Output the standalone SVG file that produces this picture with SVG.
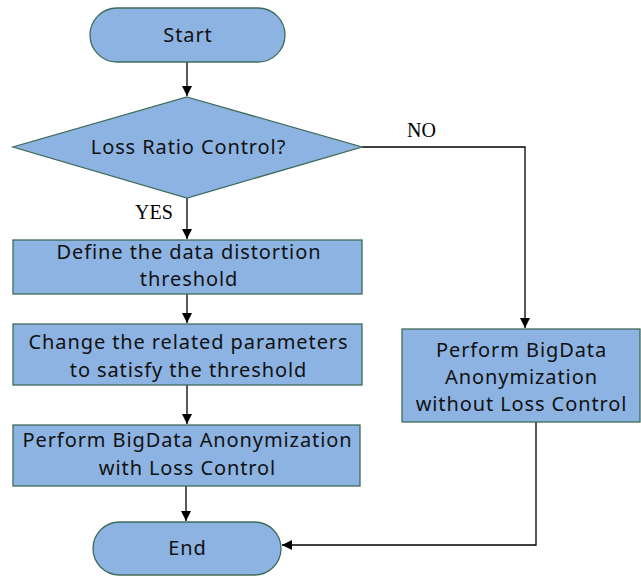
<svg xmlns="http://www.w3.org/2000/svg" width="641" height="576" viewBox="0 0 641 576">
<style>
.shape{fill:#8db3e2;stroke:#3f6b5a;stroke-width:1.3}
.t{font-family:"Noto Sans","Open Sans",sans-serif;font-size:20px;letter-spacing:0.9px;fill:#111;text-anchor:middle}
.lbl{font-family:"Liberation Serif","Times New Roman",serif;font-size:20px;fill:#000}
.c{fill:none;stroke:#000;stroke-width:1.3}
</style>
<defs>
<marker id="ah" viewBox="0 0 10 10" refX="10" refY="5" markerWidth="10" markerHeight="10" markerUnits="userSpaceOnUse" orient="auto">
<path d="M0,0 L10,5 L0,10 z" fill="#000"/>
</marker>
</defs>
<g id="connectors">
<line class="c" x1="187" y1="62" x2="187" y2="96" marker-end="url(#ah)"/>
<line class="c" x1="187" y1="198" x2="187" y2="239" marker-end="url(#ah)"/>
<line class="c" x1="187" y1="294" x2="187" y2="323" marker-end="url(#ah)"/>
<line class="c" x1="187" y1="385" x2="187" y2="424" marker-end="url(#ah)"/>
<line class="c" x1="186" y1="486" x2="186" y2="521" marker-end="url(#ah)"/>
<polyline class="c" points="362,147 525,147 525,328" marker-end="url(#ah)"/>
<polyline class="c" points="536,422 536,545 282,545" marker-end="url(#ah)"/>
<text class="lbl" x="407" y="137">NO</text>
<text class="lbl" x="135" y="219">YES</text>
</g>
<g id="start">
<rect class="shape" x="90" y="8" width="195" height="54" rx="27" ry="27"/>
<text class="t" x="188" y="42">Start</text>
</g>
<g id="decision">
<polygon class="shape" points="187,97 362,147 187,198 13,147"/>
<text class="t" x="188.5" y="154">Loss Ratio Control?</text>
</g>
<g id="define">
<rect class="shape" x="13" y="240" width="349" height="54"/>
<text class="t" x="189" y="259">Define the data distortion</text>
<text class="t" x="189" y="286">threshold</text>
</g>
<g id="change">
<rect class="shape" x="13" y="324" width="349" height="61"/>
<text class="t" x="188.5" y="349">Change the related parameters</text>
<text class="t" x="188.5" y="377">to satisfy the threshold</text>
</g>
<g id="withloss">
<rect class="shape" x="13" y="425" width="347" height="61"/>
<text class="t" x="187.5" y="447">Perform BigData Anonymization</text>
<text class="t" x="187.5" y="475">with Loss Control</text>
</g>
<g id="withoutloss">
<rect class="shape" x="402" y="329" width="238" height="93"/>
<text class="t" x="521.5" y="357">Perform BigData</text>
<text class="t" x="521.5" y="384">Anonymization</text>
<text class="t" x="521.5" y="411">without Loss Control</text>
</g>
<g id="end">
<rect class="shape" x="93" y="522" width="188" height="53" rx="26.5" ry="26.5"/>
<text class="t" x="187.5" y="555">End</text>
</g>
</svg>
